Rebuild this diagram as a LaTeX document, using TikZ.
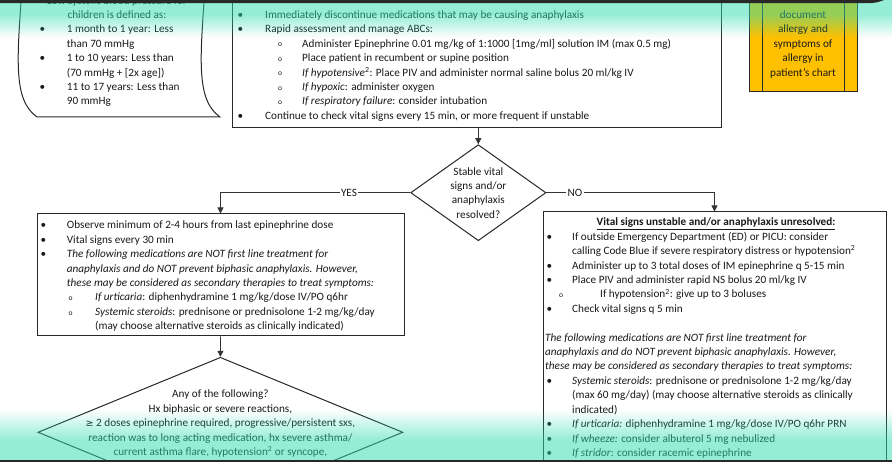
\documentclass[tikz,border=0pt]{standalone}
\usepackage{fontspec}
\setmainfont{Carlito}
\newfontfamily\symfont{DejaVu Sans}
\usetikzlibrary{shapes.geometric,arrows.meta}

\definecolor{ovl}{RGB}{45,221,175}
\definecolor{gold}{RGB}{255,192,0}
\definecolor{edge}{RGB}{40,40,40}

% list markers
\newcommand\bul[1]{\makebox[#1][l]{\textbullet}}
\newcommand\subb[1]{\makebox[#1][l]{\raisebox{0.3pt}{\fontsize{7.5}{7.5}\selectfont o}}}
\newcommand\sq{\textsuperscript{2}}

\tikzset{
  txt/.style={anchor=base west, inner sep=0pt, font=\fontsize{11.2}{12}\selectfont, text=black!90},
  ctxt/.style={txt, anchor=base},
  box/.style={rectangle, draw=edge, line width=1pt, fill=white, inner sep=0pt},
  decision/.style={diamond, draw=edge, line width=1pt, fill=white, inner sep=0pt, aspect=1},
  conn/.style={draw=black!80, line width=0.8pt},
  arr/.style={conn, -{Triangle[width=6pt,length=6pt]}},
  lbl/.style={fill=white, inner sep=1.5pt, font=\fontsize{11.2}{12}\selectfont, text=black!90},
}

\begin{document}
\begin{tikzpicture}[x=1pt,y=-1pt]
\useasboundingbox (0,0) rectangle (892,462);
\clip (0,0) rectangle (892,462);
\fill[white] (0,0) rectangle (892,462);

% ---- boxes ----
% wavy card with the blood pressure limits
\draw[edge, line width=1pt, fill=white]
  (22,-12) .. controls (17,60) and (13,100) .. (37,117)
  -- (220,117)
  .. controls (196,100) and (200,60) .. (205,-12) -- cycle;
\coordinate (card) at (118,55);

\node[box, minimum width=489pt, minimum height=178pt] (mid) at (476.5,39) {};

\node[box, fill=gold, minimum width=108pt, minimum height=141.7pt] (doc) at (803,20.85) {};
\draw[edge, line width=1pt] (762.7,-50) -- (762.7,91.7) (844,-50) -- (844,91.7);

\node[decision, minimum width=135.3pt, minimum height=96pt] (d1) at (478.3,192.7) {};

\node[box, minimum width=367pt, minimum height=122pt] (lbox) at (220.5,275) {};
\node[box, minimum width=343pt, minimum height=288pt] (rbox) at (714.5,356) {};

\node[decision, minimum width=365pt, minimum height=150pt] (d2) at (220.4,432.3) {};

% ---- connectors ----
\draw[arr] (d1.north |- mid.south) -- (d1.north);
\draw[arr] (d1.west) -| (lbox.north);
\draw[arr] (d1.east) -| (rbox.north);
\draw[arr] (lbox.south) -- (d2.north);
\node[lbl] (yes) at (349,192.7) {YES};
\node[lbl] (no) at (575,192.7) {NO};

% ---- card text ----
\node[ctxt] (c0) at (117,4.1) {Low systolic blood pressure for};
\node[ctxt] (c1) at (117,18.5) {children is defined as:};
\node[txt] (c2) at (39.5,32.9) {\bul{27.2pt}1 month to 1 year: Less};
\node[txt] (c3) at (66.7,47.3) {than 70 mmHg};
\node[txt] (c4) at (39.5,61.7) {\bul{27.2pt}1 to 10 years: Less than};
\node[txt] (c5) at (66.7,76.1) {(70 mmHg + [2x age])};
\node[txt] (c6) at (39.5,90.5) {\bul{27.2pt}11 to 17 years: Less than};
\node[txt] (c7) at (66.7,104.9) {90 mmHg};

% ---- first-line management ----
\node[txt] (m1) at (237.5,18.5) {\bul{27.5pt}Immediately discontinue medications that may be causing anaphylaxis};
\node[txt] (m2) at (237.5,32.9) {\bul{27.5pt}Rapid assessment and manage ABCs:};
\node[txt] (m3) at (278,47.3) {\subb{24pt}Administer Epinephrine 0.01 mg/kg of 1:1000 [1mg/ml] solution IM (max 0.5 mg)};
\node[txt] (m4) at (278,61.7) {\subb{24pt}Place patient in recumbent or supine position};
\node[txt] (m5) at (278,76.1) {\subb{24pt}\textit{If hypotensive}\sq: Place PIV and administer normal saline bolus 20 ml/kg IV};
\node[txt] (m6) at (278,90.5) {\subb{24pt}\textit{If hypoxic}: administer oxygen};
\node[txt] (m7) at (278,104.9) {\subb{24pt}\textit{If respiratory failure}: consider intubation};
\node[txt] (m8) at (237.5,119.3) {\bul{27.5pt}Continue to check vital signs every 15 min, or more frequent if unstable};

% ---- documentation reminder ----
\node[ctxt] (o1) at (803,18.5) {document};
\node[ctxt] (o2) at (803,32.9) {allergy and};
\node[ctxt] (o3) at (803,47.3) {symptoms of};
\node[ctxt] (o4) at (803,61.7) {allergy in};
\node[ctxt] (o5) at (803,76.1) {patient’s chart};

% ---- stability decision ----
\node[ctxt] (q1) at (478.3,175.2) {Stable vital};
\node[ctxt] (q2) at (478.3,189.6) {signs and/or};
\node[ctxt] (q3) at (478.3,204) {anaphylaxis};
\node[ctxt] (q4) at (478.3,218.4) {resolved?};

% ---- stable branch ----
\node[txt] (l1) at (40.5,229) {\bul{26.2pt}Observe minimum of 2-4 hours from last epinephrine dose};
\node[txt] (l2) at (40.5,243.4) {\bul{26.2pt}Vital signs every 30 min};
\node[txt] (l3) at (40.5,257.8) {\bul{26.2pt}\textit{The following medications are NOT first line treatment for}};
\node[txt] (l4) at (66.7,272.2) {\textit{anaphylaxis and do NOT prevent biphasic anaphylaxis. However,}};
\node[txt] (l5) at (66.7,286.6) {\textit{these may be considered as secondary therapies to treat symptoms:}};
\node[txt] (l6) at (68.3,301) {\subb{26.7pt}\textit{If urticaria}: diphenhydramine 1 mg/kg/dose IV/PO q6hr};
\node[txt] (l7) at (68.3,315.4) {\subb{26.7pt}\textit{Systemic steroids}: prednisone or prednisolone 1-2 mg/kg/day};
\node[txt] (l8) at (95,329.8) {(may choose alternative steroids as clinically indicated)};

% ---- risk decision ----
\node[ctxt] (p1) at (220.4,398) {Any of the following?};
\node[ctxt] (p2) at (220.4,412.4) {Hx biphasic or severe reactions,};
\node[ctxt] (p3) at (220.4,426.8) {{\symfont\fontsize{9.5}{10}\selectfont ≥} 2 doses epinephrine required, progressive/persistent sxs,};
\node[ctxt] (p4) at (220.4,441.2) {reaction was to long acting medication, hx severe asthma/};
\node[ctxt] (p5) at (220.4,455.6) {current asthma flare, hypotension\sq{} or syncope,};

% ---- unstable branch ----
\node[ctxt] (r0) at (716,226) {\textbf{\underline{Vital signs unstable and/or anaphylaxis unresolved:}}};
\node[txt] (r1) at (546.5,240.4) {\bul{25.5pt}If outside Emergency Department (ED) or PICU: consider};
\node[txt] (r2) at (572,254.8) {calling Code Blue if severe respiratory distress or hypotension\sq};
\node[txt] (r3) at (546.5,269.2) {\bul{25.5pt}Administer up to 3 total doses of IM epinephrine q 5-15 min};
\node[txt] (r4) at (546.5,283.6) {\bul{25.5pt}Place PIV and administer rapid NS bolus 20 ml/kg IV};
\node[txt] (r5) at (559,298) {\subb{41pt}If hypotension\sq: give up to 3 boluses};
\node[txt] (r6) at (546.5,312.4) {\bul{25.5pt}Check vital signs q 5 min};
\node[txt] (r7) at (545,341.2) {\textit{The following medications are NOT first line treatment for}};
\node[txt] (r8) at (545,355.6) {\textit{anaphylaxis and do NOT prevent biphasic anaphylaxis. However,}};
\node[txt] (r9) at (545,370) {\textit{these may be considered as secondary therapies to treat symptoms:}};
\node[txt] (r10) at (546.5,384.4) {\bul{25.5pt}\textit{Systemic steroids}: prednisone or prednisolone 1-2 mg/kg/day};
\node[txt] (r11) at (572,398.8) {(max 60 mg/day) (may choose alternative steroids as clinically};
\node[txt] (r12) at (572,413.2) {indicated)};
\node[txt] (r13) at (546.5,427.6) {\bul{25.5pt}\textit{If urticaria:} diphenhydramine 1 mg/kg/dose IV/PO q6hr PRN};
\node[txt] (r14) at (546.5,442) {\bul{25.5pt}\textit{If wheeze:} consider albuterol 5 mg nebulized};
\node[txt] (r15) at (546.5,456.4) {\bul{25.5pt}\textit{If stridor}: consider racemic epinephrine};

% ---- aqua tint bands at top and bottom ----
\fill[ovl, fill opacity=0.5] (0,0) rectangle (892,15);
\foreach \k [evaluate=\k as \op using {0.5*(22.5-\k)/23}] in {0,...,22}
  {\fill[ovl, fill opacity=\op] (0,15+\k) rectangle (892,16+\k);}
\foreach \k [evaluate=\k as \op using {0.5*(\k+0.5)/30}] in {0,...,29}
  {\fill[ovl, fill opacity=\op] (0,410+\k) rectangle (892,411+\k);}
\fill[ovl, fill opacity=0.5] (0,440) rectangle (892,462);

% ---- dark frame edges ----
\draw[edge, line width=3.3pt] (-5,1.6) -- (866,1.6) .. controls (878,1.6) and (884,-1) .. (890,-6);
\draw[edge, line width=2.5pt] (-5,461) -- (897,461);
\end{tikzpicture}
\end{document}
